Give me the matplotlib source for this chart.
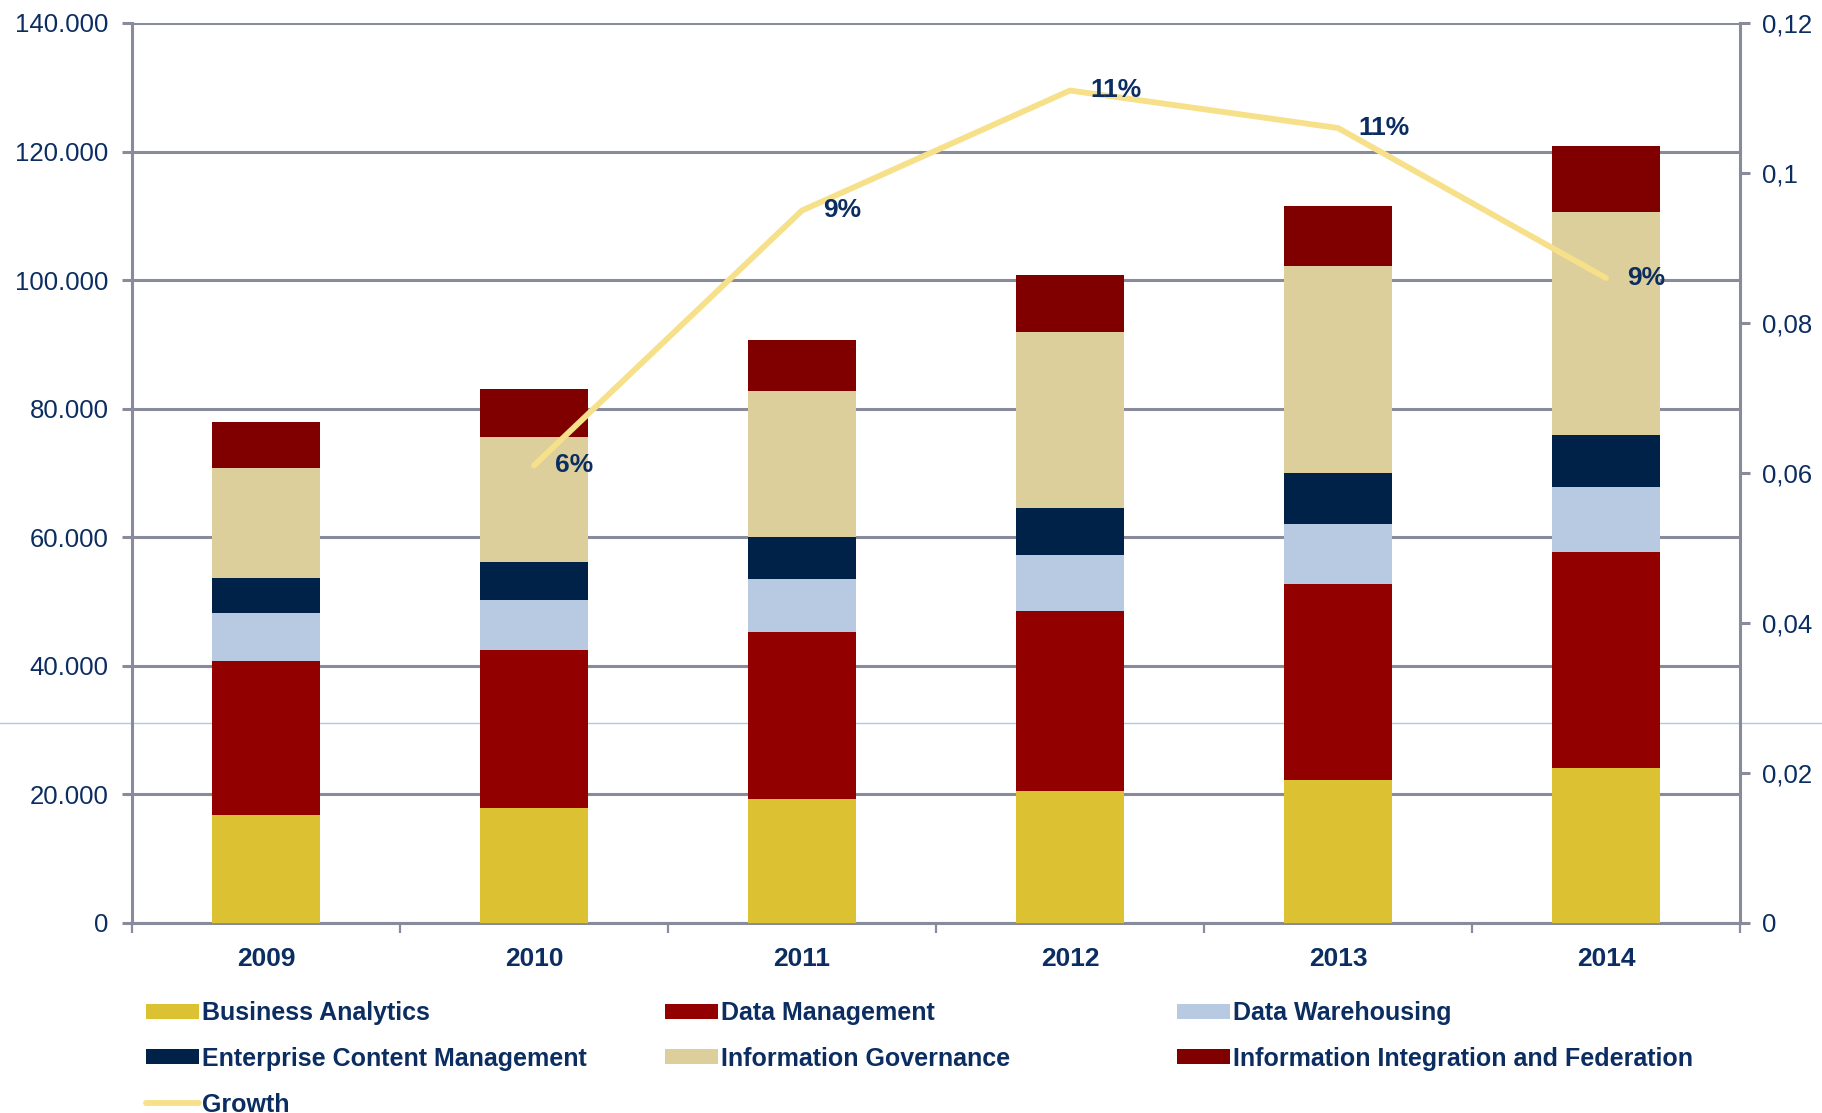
import matplotlib
matplotlib.use("Agg")
import matplotlib.pyplot as plt
import numpy as np
from matplotlib.lines import Line2D
from matplotlib.ticker import FixedLocator, FuncFormatter

YEARS = ["2009", "2010", "2011", "2012", "2013", "2014"]
BUSINESS_ANALYTICS = [16800, 17900, 19350, 20600, 22250, 24050]
DATA_MANAGEMENT = [24000, 24600, 25850, 28000, 30550, 33600]
DATA_WAREHOUSING = [7400, 7800, 8300, 8700, 9200, 10100]
ENTERPRISE_CONTENT = [5400, 5800, 6500, 7200, 7950, 8150]
INFO_GOVERNANCE = [17200, 19500, 22800, 27500, 32200, 34700]
INFO_INTEGRATION = [7200, 7400, 7950, 8850, 9400, 10300]

GROWTH_YEARS = ["2010", "2011", "2012", "2013", "2014"]
GROWTH = [0.061, 0.095, 0.111, 0.106, 0.086]
GROWTH_LABELS = ["6%", "9%", "11%", "11%", "9%"]

SERIES = [
    ("Business Analytics", BUSINESS_ANALYTICS, "#DCC232"),
    ("Data Management", DATA_MANAGEMENT, "#920000"),
    ("Data Warehousing", DATA_WAREHOUSING, "#B8CAE2"),
    ("Enterprise Content Management", ENTERPRISE_CONTENT, "#002249"),
    ("Information Governance", INFO_GOVERNANCE, "#DCCF9B"),
    ("Information Integration and Federation", INFO_INTEGRATION, "#800000"),
]

TEXT = "#0B2D62"
GRID = "#888B9B"
LINE = "#F7E08A"

plt.rcParams["font.family"] = ["Liberation Sans", "DejaVu Sans"]

fig = plt.figure(figsize=(18.22, 11.13), dpi=100)
ax = fig.add_axes([132 / 1822, 1 - 923 / 1113, (1740 - 132) / 1822, (923 - 23) / 1113])
ax.patch.set_visible(False)

# stray light-blue rule that runs across the whole picture behind the bars
fig.add_artist(Line2D([0, 1], [1 - 723 / 1113] * 2, transform=fig.transFigure,
                      color="#A9CBF2", linewidth=1.0, zorder=-5))

x = np.arange(len(YEARS))
bottom = np.zeros(len(YEARS))
handles = {}
for name, vals, col in SERIES:
    vals = np.asarray(vals, dtype=float)
    handles[name] = ax.bar(x, vals, width=0.4, bottom=bottom, color=col,
                           label=name, zorder=3, linewidth=0)
    bottom += vals

ax.set_xlim(-0.5, len(YEARS) - 0.5)
ax.set_ylim(0, 140000)
ax.yaxis.set_major_locator(FixedLocator(np.arange(0, 140001, 20000)))
ax.yaxis.set_major_formatter(FuncFormatter(lambda v, p: f"{v:,.0f}".replace(",", ".")))
ax.grid(axis="y", color=GRID, linewidth=2.2, zorder=0)
ax.set_axisbelow(True)

ax.xaxis.set_major_locator(FixedLocator(np.arange(-0.5, len(YEARS), 1.0)))
ax.xaxis.set_major_formatter(FuncFormatter(lambda v, p: ""))
ax.xaxis.set_minor_locator(FixedLocator(x))
ax.set_xticklabels(YEARS, minor=True)
ax.tick_params(axis="x", which="major", length=7, width=1.6, color=GRID, direction="out")
ax.tick_params(axis="x", which="minor", length=0, pad=17, labelsize=19, labelcolor=TEXT)
for lbl in ax.get_xticklabels(minor=True):
    lbl.set_fontweight("bold")
ax.tick_params(axis="y", length=7, width=2.2, color=GRID, pad=10, labelsize=18.5, labelcolor=TEXT)

for side in ["top", "right"]:
    ax.spines[side].set_visible(False)
for side in ["left", "bottom"]:
    ax.spines[side].set_color(GRID)
    ax.spines[side].set_linewidth(2.2)

ax2 = ax.twinx()
gx = [YEARS.index(y) for y in GROWTH_YEARS]
growth_line, = ax2.plot(gx, GROWTH, color=LINE, linewidth=4.2, label="Growth",
                        solid_capstyle="round", zorder=4)
for xi, yi, lab in zip(gx, GROWTH, GROWTH_LABELS):
    ax2.annotate(lab, (xi, yi), xytext=(15, 0), textcoords="offset points",
                 ha="left", va="center", fontsize=19, fontweight="bold",
                 color=TEXT, zorder=5)
ax2.set_ylim(0, 0.12)
ax2.yaxis.set_major_locator(FixedLocator(np.arange(0, 0.121, 0.02)))
ax2.yaxis.set_major_formatter(FuncFormatter(lambda v, p: f"{v:g}".replace(".", ",")))
ax2.tick_params(axis="y", length=7, width=2.2, color=GRID, pad=9, labelsize=18.5, labelcolor=TEXT)
for side in ["top", "left", "bottom"]:
    ax2.spines[side].set_visible(False)
ax2.spines["right"].set_color(GRID)
ax2.spines["right"].set_linewidth(2.2)

# legend laid out in three columns like the original
columns = [
    (146, [handles["Business Analytics"], handles["Enterprise Content Management"], growth_line],
     ["Business Analytics", "Enterprise Content Management", "Growth"]),
    (665, [handles["Data Management"], handles["Information Governance"]],
     ["Data Management", "Information Governance"]),
    (1177, [handles["Data Warehousing"], handles["Information Integration and Federation"]],
     ["Data Warehousing", "Information Integration and Federation"]),
]
for xpx, hs, labs in columns:
    leg = fig.legend(hs, labs, loc="upper left", bbox_to_anchor=(xpx / 1822, 1 - 1001 / 1113),
                     frameon=False, borderpad=0, borderaxespad=0, handlelength=2.1,
                     handleheight=0.55, handletextpad=0.15, labelspacing=0.87,
                     prop={"size": 18, "weight": "bold"})
    for t in leg.get_texts():
        t.set_color(TEXT)

fig.savefig("out.png", dpi=100)
